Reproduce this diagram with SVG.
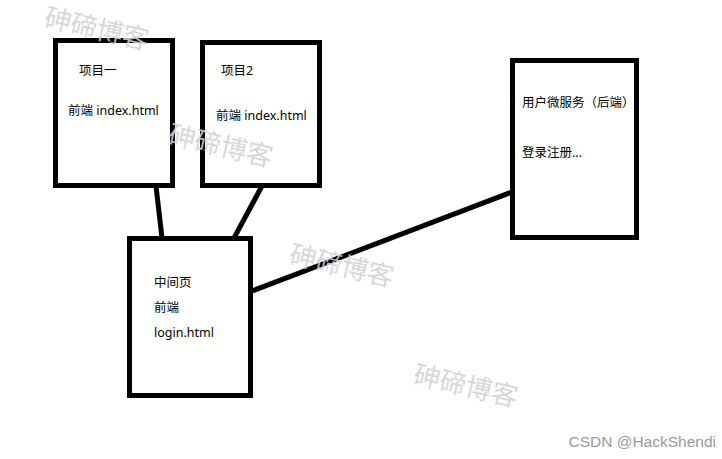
<svg xmlns="http://www.w3.org/2000/svg" width="722" height="459" viewBox="0 0 722 459">
<style>
.box{fill:#fff;stroke:#000;stroke-width:5}
.lbl{font-family:"Noto Sans","Noto Sans CJK SC",sans-serif;font-size:12.5px;fill:#000}
.wm{font-family:"Noto Sans CJK SC",sans-serif;font-size:26.5px;fill:#d2d2d2;fill-opacity:0.9}
.conn{stroke:#000;stroke-width:5;fill:none}
</style>
<rect width="722" height="459" fill="#fff"/>
<g id="connectors">
<line class="conn" x1="156" y1="186" x2="162" y2="238"/>
<line class="conn" x1="262" y1="186" x2="234" y2="238"/>
<line class="conn" x1="252" y1="291" x2="512" y2="192"/>
</g>
<g id="project1">
<rect class="box" x="55.5" y="40.5" width="117" height="145"/>
<text class="lbl" x="79" y="75">项目一</text>
<text class="lbl" x="68" y="115">前端 index.html</text>
</g>
<g id="project2">
<rect class="box" x="202.5" y="42.5" width="117" height="143"/>
<text class="lbl" x="221" y="75">项目2</text>
<text class="lbl" x="216" y="120">前端 index.html</text>
</g>
<g id="middle">
<rect class="box" x="129.5" y="238.5" width="121" height="157"/>
<text class="lbl" x="154" y="287">中间页</text>
<text class="lbl" x="154" y="312">前端</text>
<text class="lbl" x="154" y="337">login.html</text>
</g>
<g id="user-service">
<rect class="box" x="512.5" y="60.5" width="124" height="177"/>
<text class="lbl" x="522" y="107" font-size="12">用户微服务（后端）</text>
<text class="lbl" x="522" y="157">登录注册...</text>
</g>
<g id="watermarks">
<text class="wm" transform="translate(43,26) rotate(13)">砷碲博客</text>
<text class="wm" transform="translate(167,143) rotate(13)">砷碲博客</text>
<text class="wm" transform="translate(288,263) rotate(13)">砷碲博客</text>
<text class="wm" transform="translate(412,383) rotate(13)">砷碲博客</text>
</g>
<text x="716" y="447" text-anchor="end" font-family="Liberation Sans, sans-serif" font-size="15.5" fill="#999">CSDN @HackShendi</text>
</svg>
